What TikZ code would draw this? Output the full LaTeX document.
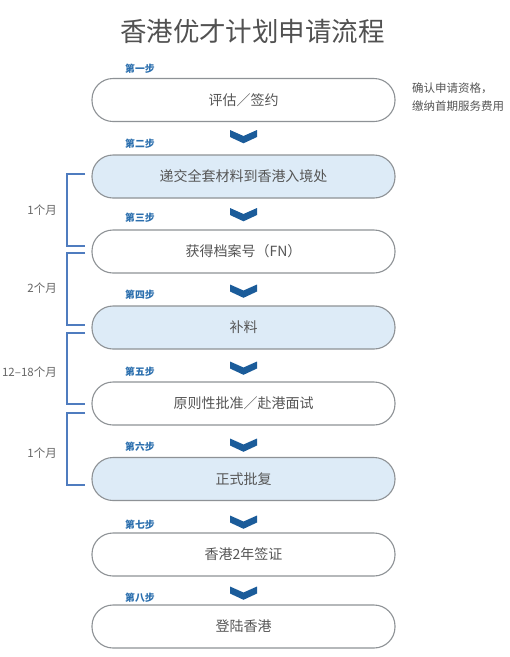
\documentclass[tikz,border=0pt]{standalone}
\usepackage{fontspec}
\setmainfont{Noto Sans CJK SC}
\usetikzlibrary{calc}
\definecolor{boxline}{HTML}{8E9296}
\definecolor{boxfill}{HTML}{DDEBF7}
\definecolor{txtgray}{HTML}{555555}
\definecolor{stepblue}{HTML}{2B6FAE}
\definecolor{chevblue}{HTML}{1B5C9A}
\definecolor{brkblue}{HTML}{4F7CBF}
\tikzset{
  pill/.style={draw=boxline, line width=1.1pt, rounded corners=21pt, minimum width=303pt, minimum height=43pt, inner sep=0pt, text=txtgray, font=\fontsize{14}{16}\selectfont},
  pillw/.style={pill, fill=white},
  pillb/.style={pill, fill=boxfill},
  steplbl/.style={anchor=west, inner sep=0pt, text=stepblue, font=\bfseries\fontsize{9.8}{11}\selectfont},
  durlbl/.style={anchor=east, inner sep=0pt, text=txtgray!90, font=\fontsize{11.5}{13}\selectfont},
  brk/.style={draw=brkblue, line width=2pt},
  chev/.style={fill=chevblue}
}
\newcommand{\chevron}[1]{\fill[chev] ($(#1)+(-13.5,-6.5)$) -- ($(#1)+(0,-0.5)$) -- ($(#1)+(13.5,-6.5)$) -- ($(#1)+(13.5,0.5)$) -- ($(#1)+(0,6.8)$) -- ($(#1)+(-13.5,0.5)$) -- cycle;}
\begin{document}
\begin{tikzpicture}[x=1pt,y=-1pt]
\useasboundingbox[fill=white] (0,0) rectangle (510,657);
\node[text=txtgray!95!black, font=\fontsize{26.5}{30}\selectfont, inner sep=0pt] (title) at (252.5,31) {香港优才计划申请流程};

\node[pillw] (b1) at (243.5,100) {评估／签约};
\node[pillb] (b2) at (243.5,176.5) {递交全套材料到香港入境处};
\node[pillw] (b3) at (243.5,251.5) {获得档案号（FN）};
\node[pillb] (b4) at (243.5,327.5) {补料};
\node[pillw] (b5) at (243.5,403.5) {原则性批准／赴港面试};
\node[pillb] (b6) at (243.5,479) {正式批复};
\node[pillw] (b7) at (243.5,554.5) {香港2年签证};
\node[pillw] (b8) at (243.5,626.5) {登陆香港};

\node[steplbl] (s1) at (125,69) {第一步};
\node[steplbl] (s2) at (125,144) {第二步};
\node[steplbl] (s3) at (125,218) {第三步};
\node[steplbl] (s4) at (125,295) {第四步};
\node[steplbl] (s5) at (125,372) {第五步};
\node[steplbl] (s6) at (125,447) {第六步};
\node[steplbl] (s7) at (125,525) {第七步};
\node[steplbl] (s8) at (125,598) {第八步};

\coordinate (c1) at (243.5,136.5);
\coordinate (c2) at (243.5,214.5);
\coordinate (c3) at (243.5,291);
\coordinate (c4) at (243.5,368);
\coordinate (c5) at (243.5,445);
\coordinate (c6) at (243.5,522);
\coordinate (c7) at (243.5,593);
\foreach \c in {c1,c2,c3,c4,c5,c6,c7} {\chevron{\c}}

\node[anchor=west, inner sep=0pt, text=txtgray, font=\fontsize{11.5}{13}\selectfont, align=left] (note) at (412,97.5) {确认申请资格，\\[5pt]缴纳首期服务费用};

\draw[brk] (85,174) -- (66.5,174) -- (66.5,246) -- (85,246);
\draw[brk] (85,253) -- (66.5,253) -- (66.5,324.5) -- (85,324.5);
\draw[brk] (85,332.5) -- (66.5,332.5) -- (66.5,403.5) -- (85,403.5);
\draw[brk] (85,413) -- (66.5,413) -- (66.5,484.5) -- (85,484.5);

\node[durlbl] (d1) at (57,210) {1个月};
\node[durlbl] (d2) at (57,288) {2个月};
\node[durlbl] (d3) at (57,372) {12–18个月};
\node[durlbl] (d4) at (57,453) {1个月};
\end{tikzpicture}
\end{document}
